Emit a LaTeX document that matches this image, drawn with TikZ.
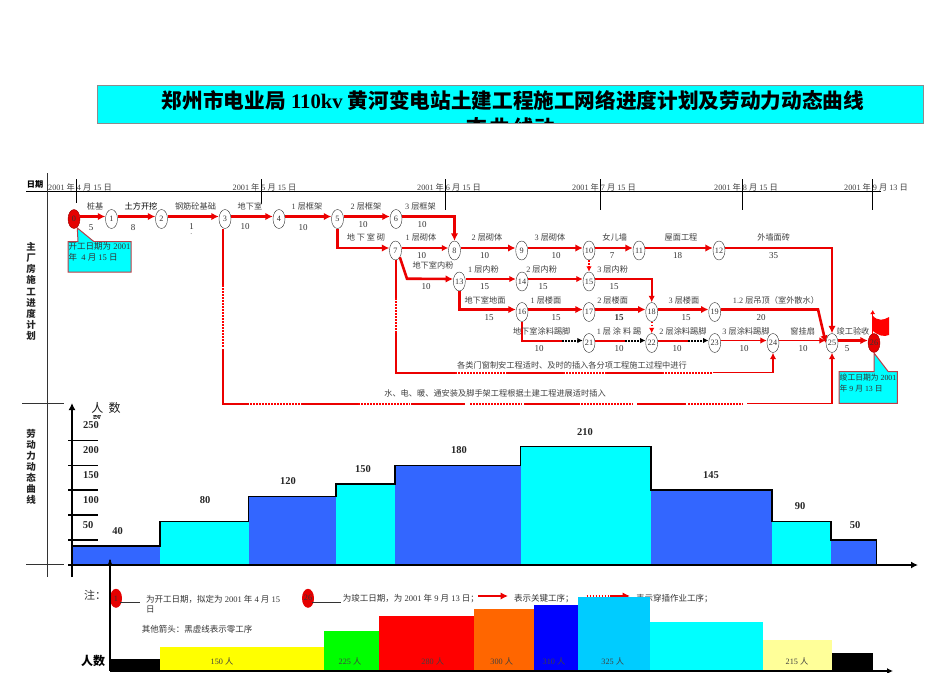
\documentclass[tikz,border=0pt]{standalone}
\usepackage{fontspec}
\setmainfont{Liberation Serif}
\newfontfamily\cjk{Noto Sans CJK SC}
\newcommand{\zh}[1]{{\cjk #1}}
\usetikzlibrary{shapes.geometric,arrows.meta}
\definecolor{barblue}{RGB}{51,102,255}
\definecolor{barcyan}{RGB}{0,255,255}
\definecolor{baryellow}{RGB}{255,255,0}
\definecolor{bargreen}{RGB}{0,255,0}
\definecolor{barred}{RGB}{255,0,0}
\definecolor{barorange}{RGB}{255,102,0}
\definecolor{barnavy}{RGB}{0,0,255}
\definecolor{barsky}{RGB}{0,204,255}
\definecolor{barpale}{RGB}{255,255,153}
\definecolor{linkred}{RGB}{235,0,0}
\definecolor{calloutedge}{RGB}{190,60,70}
\tikzset{
    evt/.style={draw=black!80, ellipse, minimum width=12, minimum height=19, inner sep=0, font=\fontsize{8.2}{9}\selectfont, text=black!80},
    redevt/.style={evt, draw=red!60!black, fill=barred!90!black},
    lbl/.style={font=\fontsize{8.2}{10}\selectfont, text=black!75, inner sep=0},
    num/.style={font=\fontsize{9}{10}\selectfont, text=black!80, inner sep=0},
    crit/.style={linkred, line width=2.6, -{Latex[length=7.5,width=7.5]}},
    minor/.style={linkred, line width=1.9, -{Latex[length=6.5,width=6.5]}},
    plain/.style={linkred, line width=2},
    dots/.style={barred, line width=2, dash pattern=on 1.5pt off 1.5pt},
    reddots/.style={barred, line width=1.8, dash pattern=on 1.5pt off 1.5pt, -{Latex[length=5.5,width=5.5]}},
    zerodots/.style={black, line width=2, dash pattern=on 1.5pt off 1.5pt, -{Latex[length=5.5,width=5.5]}},
    callout/.style={draw=calloutedge, fill=barcyan, line width=1},
    note/.style={font=\fontsize{8.5}{10.5}\selectfont, text=black!80, inner sep=0, anchor=west, align=left},
    val/.style={font=\fontsize{10.5}{12}\selectfont\bfseries, text=black!85, inner sep=0},
    side/.style={font=\fontsize{9.5}{11}\selectfont\bfseries\cjk, inner sep=0, align=center, text=black!85}
}
\begin{document}
\begin{tikzpicture}[x=1pt,y=-1pt]
    \useasboundingbox (0,0) rectangle (950,672);

    % title
    \begin{scope}
        \path[clip] (97.5,85) rectangle (923,123.5);
        \fill[barcyan] (97.5,85) rectangle (923,123.5);
        \node[font=\fontsize{20.65}{24}\selectfont\bfseries, inner sep=0] (title) at (513,100.5) {\zh{郑州市电业局} 110kv \zh{黄河变电站土建工程施工网络进度计划及劳动力动态曲线}};
        \node[font=\fontsize{20.65}{24}\selectfont\bfseries, inner sep=0] (titlemore) at (510.5,128) {\zh{态\hspace{3pt}曲\hspace{3pt}线动}};
    \end{scope}
    \draw[black!45, line width=1] (97.5,85) rectangle (923,123.5);

    % frame and time axis
    \draw[black, line width=1] (26,191) -- (881,191);
    \draw[black!80, line width=1] (47,173) -- (47,577);
    \draw[black!80, line width=1] (22,403) -- (64,403);
    \draw[black!80, line width=1] (26,564.7) -- (64,564.7);
    \foreach \x/\yend in {76.5/203,261/204,445/210,600/210,742/210,872/210}
        \draw[black, line width=1] (\x,179) -- (\x,\yend);
    \foreach \x/\mon/\day in {80/4/15,264.5/5/15,449/6/15,604/7/15,746/8/15,876/9/13}
        \node[lbl] at (\x,187) {2001 \zh{年} \mon{} \zh{月} \day{} \zh{日}};
    \node[lbl, text=black, font=\fontsize{8.2}{10}\selectfont\bfseries] (riqi) at (35,184.5) {\zh{日期}};
    \node[side] (sidea) at (31,291.5) {主\\[0.2pt]厂\\[0.2pt]房\\[0.2pt]施\\[0.2pt]工\\[0.2pt]进\\[0.2pt]度\\[0.2pt]计\\[0.2pt]划};
    \node[side] (sideb) at (31,467) {劳\\动\\力\\动\\态\\曲\\线};

    % events
    \foreach \n/\x/\y in {1/111.5/219,2/161.5/219,3/225/219,4/279/219,5/337.5/219,6/396/219,
        7/395.5/250.5,8/454.5/250.5,9/521.7/250.5,10/589/250.5,11/639/250.5,12/719/250.5,
        13/459.3/281.5,14/522/281.5,15/589/281.5,16/522/312,17/589/312,18/651.7/312,19/714.7/312,
        21/589/343,22/651.7/343,23/714.7/343,24/773/343,25/832/343}
        \node[evt] (n\n) at (\x,\y) {\n};
    \node[redevt] (n0) at (74,219) {0};
    \node[redevt] (n26) at (874,343) {26};

    % main arrows
    \foreach \a/\b in {0/1,1/2,2/3,3/4,4/5,5/6,8/9,9/10,10/11,11/12,16/17,17/18,18/19,25/26}
        \draw[crit] ([yshift=2.5]n\a.east) -- ([yshift=2.5]n\b.west);
    \foreach \a/\b in {7/8,13/14,14/15,23/24,24/25}
        \draw[minor] ([yshift=2.5]n\a.east) -- ([yshift=2.5]n\b.west);
    \draw[crit] (n5.south) |- ([yshift=2.5]n7.west);
    \draw[crit] ([yshift=2.5]n6.east) -| (n8.north);
    \draw[crit] (n13.south) |- ([yshift=2.5]n16.west);
    \draw[crit, line width=2.1] ([yshift=2.5]n12.east) -| (n25.north);
    \draw[minor] ([yshift=2.5]n15.east) -| (n18.north);
    \draw[crit] ([yshift=2.5]n19.east) -- (818,309.5) -- (n25.west);
    \draw[crit] (n7.south east) -- (407,278.7) -- ([yshift=2.5]n13.west);
    \draw[reddots] (n10.south) -- (n15.north);
    \draw[reddots] (n18.south) -- (n22.north);

    % insert works with black zero lines
    \draw[plain] (n16.south) |- (562,340.5);
    \draw[zerodots] (562,340.5) -- ([yshift=2.5]n21.west);
    \draw[plain] ([yshift=2.5]n21.east) -- (625,340.5);
    \draw[zerodots] (625,340.5) -- ([yshift=2.5]n22.west);
    \draw[plain] ([yshift=2.5]n22.east) -- (688,340.5);
    \draw[zerodots] (688,340.5) -- ([yshift=2.5]n23.west);

    % long links
    \draw[plain] ([xshift=-2]n3.south) -- (223,285);
    \draw[dots] (223,285) -- (223,347);
    \draw[plain] (223,349) -- (223,403.5) -- (249,403.5);
    \foreach \xa/\xb in {250/302,358/410,470/522,581/633,688/743}
        \draw[dots] (\xa,403.5) -- (\xb,403.5);
    \foreach \xa/\xb in {302/358,411/465,524/580,637/686}
        \draw[plain] (\xa,403.5) -- (\xb,403.5);
    \draw[minor] (747,403.5) -- (832,403.5) -- (n25.south);

    \draw[plain] (n7.south) -- (395.5,298);
    \draw[dots] (395.5,298) -- (395.5,333);
    \draw[plain] (395.5,333) -- (395.5,372.5) -- (455,372.5);
    \foreach \xa/\xb in {455/507,563/607,662/713}
        \draw[dots] (\xa,372.5) -- (\xb,372.5);
    \foreach \xa/\xb in {507/563,607/662}
        \draw[plain] (\xa,372.5) -- (\xb,372.5);
    \draw[minor] (713,372.5) -- (773,372.5) -- (n24.south);

    % activity names
    \foreach \x/\y/\t in {95/206/桩基,195.5/206/钢筋砼基础,250/206/地下室,
        366/237/地 下 室 砌,614.7/237/女儿墙,681/237/屋面工程,773.7/237/外墙面砖,
        433/265/地下室内粉,485/300/地下室地面,541.7/331/地下室涂料踢脚,
        802.7/331/窗挂扇,853/331/竣工验收}
        \node[lbl] at (\x,\y) {\zh{\t}};
    \node[lbl, text=black] at (141,206) {\zh{土方开挖}};
    \foreach \x/\y/\k/\t in {307/206/1/层框架,366/206/2/层框架,420.5/206/3/层框架,
        421/237/1/层砌体,487/237/2/层砌体,550/237/3/层砌体,
        483.5/269/1/层内粉,541.7/269/2/层内粉,612.7/269/3/层内粉,
        546/300/1/层楼面,612.7/300/2/层楼面,684/300/3/层楼面,
        683/331/2/层涂料踢脚,746/331/3/层涂料踢脚}
        \node[lbl] at (\x,\y) {\k{} \zh{\t}};
    \node[lbl] at (619,331) {1 \zh{层 涂 料 踢}};
    \node[lbl] at (776,300) {1.2 \zh{层吊顶（室外散水）}};
    \node[lbl] (doorwork) at (572,365) {\zh{各类门窗制安工程适时、及时的插入各分项工程施工过程中进行}};
    \node[lbl] (mepwork) at (495,393) {\zh{水、电、暖、通安装及脚手架工程根据土建工程进展适时插入}};

    % durations
    \foreach \x/\y/\t in {91/228/5,133/228/8,191.5/226.5/1,245/226.5/10,303/228/10,363/225/10,422/225/10,
        421.5/256/10,484.5/256/10,556/256/10,612/256/7,677.5/256/18,773.7/256/35,
        426/287/10,484.5/287/15,543/287/15,614/287/15,
        489/318/15,556/318/15,686/318/15,761/318/20,
        539/349/10,619/349/10,677/349/10,744/349/10,803/349/10,847/349/5}
        \node[num] at (\x,\y) {\t};
    \node[num, font=\fontsize{9}{10}\selectfont\bfseries] at (619,318) {15};
    \node[num, font=\fontsize{5}{5}\selectfont] at (191.5,234.5) {-};

    % callouts
    \draw[callout] (78,241.7) -- (77.3,228) -- (94,241.7) -- (131,241.7) -- (131,272) -- (68,272) -- (68,241.7) -- cycle;
    \node[note] (startnote) at (68.5,252) {\zh{开工日期为} 2001\\\zh{年}\ \ 4 \zh{月} 15 \zh{日}};
    \draw[callout] (874,353) -- (888.3,371.7) -- (897.3,371.7) -- (897.3,403.3) -- (839,403.3) -- (839,371.7) -- (874,371.7) -- cycle;
    \node[note, font=\fontsize{7.8}{10.5}\selectfont] (endnote) at (839.5,383) {\zh{竣工日期为} 2001\\\zh{年} 9 \zh{月} 13 \zh{日}};

    % flag
    \draw[barred, line width=1.2, -{Latex[length=4,width=5]}] (872.7,334) -- (872.7,310);
    \fill[barred] (872,315) .. controls (878,322) and (884,320) .. (889,317) -- (889,335) .. controls (884,337) and (878,336) .. (872,330) -- cycle;

    % labour curve
    \node[val] at (117.5,531) {40};
    \node[val] at (205,500) {80};
    \node[val] at (288,481) {120};
    \node[val] at (363,469) {150};
    \node[val] at (459,450) {180};
    \node[val] at (585,431.7) {210};
    \node[val] at (711,475) {145};
    \node[val] at (800,506) {90};
    \node[val] at (855,525) {50};
    \node[val] at (851.7,543) {0};
    \foreach \xa/\xb/\ytop/\col in {72/160/546/barblue,160/248.5/521.3/barcyan,248.5/336/496.3/barblue,336/395/484/barcyan,
        395/520.5/465.3/barblue,520.5/651/446.7/barcyan,651/772/490/barblue,772/831/521.3/barcyan,831/876.7/540/barblue}
        \fill[\col] (\xa,\ytop) rectangle (\xb,564.7);
    \draw[black, line width=1.5] (72,546) -- (160,546) -- (160,521.3) -- (248.5,521.3) -- (248.5,496.3) -- (336,496.3)
        -- (336,484) -- (395,484) -- (395,465.3) -- (520.5,465.3) -- (520.5,446.7) -- (651,446.7) -- (651,490)
        -- (772,490) -- (772,521.3) -- (831,521.3) -- (831,540) -- (876.7,540) -- (876.7,564.7);
    \draw[black, line width=2] (68,564.7) -- (877,564.7);
    \draw[black, line width=1.5, -{Latex[length=7,width=7]}] (877,565) -- (918,565);
    \draw[black, line width=2, -{Latex[length=7,width=7]}] (72,577) -- (72,403);
    \foreach \y in {440.3,465.3,490,515,540}
        \draw[black, line width=1.3] (68,\y) -- (97.5,\y);
    \foreach \y/\t in {425/250,450/200,475/150,500/100}
        \node[val] at (91,\y) {\t};
    \node[val] at (88,525) {50};
    \node[font=\fontsize{12}{14}\selectfont\cjk, inner sep=0, text=black!90] (renshu) at (106,408) {人\ \ 数};
    \begin{scope}
        \path[clip] (90,415) rectangle (104,418);
        \node[font=\fontsize{9}{10}\selectfont\cjk, inner sep=0] (renshub) at (97,418.5) {数};
    \end{scope}

    % legend
    \node[font=\fontsize{11}{13}\selectfont\cjk, inner sep=0, text=black!80] (zhu) at (95,595) {注：};
    \node[redevt, draw=none] (keya) at (116,598.3) {1};
    \draw[black!80, line width=0.8] (keya.south east |- 0,602.3) -- (140,602.3);
    \node[note] (keyatext) at (146,604) {\zh{为开工日期，拟定为} 2001 \zh{年} 4 \zh{月} 15\\\zh{日}};
    \node[redevt, draw=none] (keyb) at (308,598.3) {26};
    \draw[black!80, line width=0.8] (keyb.south east |- 0,602.3) -- (340.7,602.3);
    \node[note] (keybtext) at (342.7,598.5) {\zh{为竣工日期，为} 2001 \zh{年} 9 \zh{月} 13 \zh{日；}};
    \coordinate (arra) at (478,596);
    \coordinate (arrb) at (508,596);
    \draw[crit] (arra) -- (arrb);
    \node[note] (arrtext) at (514,598.5) {\zh{表示关键工序；}};
    \coordinate (dota) at (586.7,596);
    \coordinate (dotb) at (610,596);
    \coordinate (dotc) at (630,596);
    \draw[dots] (dota) -- (dotb);
    \draw[crit] (dotb) -- (dotc);
    \node[note] (dottext) at (636,598.5) {\zh{表示穿插作业工序；}};
    \node[note] (zerotext) at (141.7,629.3) {\zh{其他箭头：黑虚线表示零工序}};
    \node[font=\fontsize{12}{14}\selectfont\bfseries\cjk, inner sep=0] (renshuc) at (93,660.7) {人数};

    % manpower bars
    \foreach \xa/\xb/\ytop/\col in {110/160/659/black,160/324/646.7/baryellow,324/379/630.7/bargreen,379/474/615.7/barred,
        474/534.3/609.3/barorange,534.3/577.7/605.3/barnavy,577.7/650/596.7/barsky,
        650/763.3/622/barcyan,763.3/832/640/barpale,832/872.7/652.7/black}
        \fill[\col] (\xa,\ytop) rectangle (\xb,671);
    \foreach \x/\t in {222/150,350/225,432.7/280,501.7/300,554/310,612.7/325,797/215}
        \node[lbl] at (\x,661.7) {\t{} \zh{人}};
    \draw[black, line width=1.5] (110,560) -- (110,671);
    \fill[black] (110,559) -- (107.8,565) -- (112.2,565) -- cycle;
    \draw[black, line width=1.2, -{Latex[length=6,width=6]}] (110,671) -- (893,671);

\end{tikzpicture}
\end{document}
